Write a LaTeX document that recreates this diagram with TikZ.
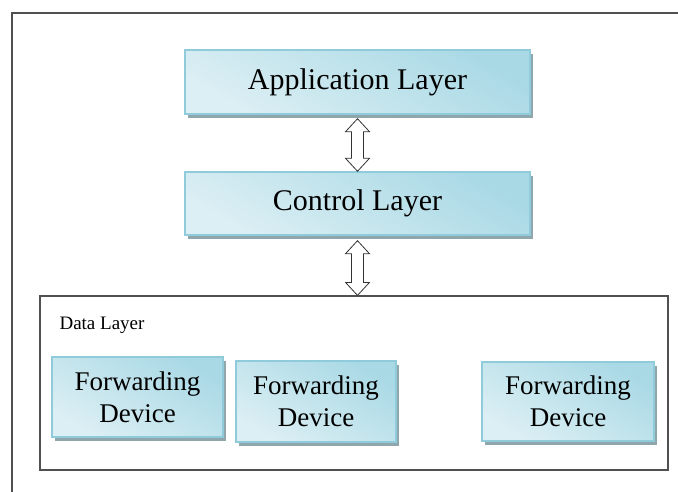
\documentclass[tikz,border=0pt]{standalone}
\usepackage{fontspec}
\setmainfont{Liberation Serif}
\usetikzlibrary{calc,shadows}

\definecolor{boxlight}{HTML}{DCEFF4}
\definecolor{boxdark}{HTML}{A9D9E5}
\definecolor{boxedge}{HTML}{8FCBDB}
\definecolor{boxshadow}{HTML}{8FA6AD}
\definecolor{framegray}{HTML}{505050}

\tikzset{
  layerbox/.style={
    draw=boxedge, line width=1.4pt,
    top color=boxlight, bottom color=boxdark, shading angle=150,
    drop shadow={shadow xshift=2.5pt, shadow yshift=-4pt, fill=boxshadow, opacity=1},
    inner sep=0pt, align=center, text=black
  },
  hollowarrow/.style={draw=black!80, line width=0.8pt, fill=white, line join=miter},
  groupbox/.style={draw=framegray, line width=1.2pt, inner sep=0pt}
}

% double-headed hollow arrow between two points (tip to tip)
\newcommand{\twowayarrow}[2]{%
  \draw[hollowarrow]
    (#1) -- ($(#1)+(-12,13)$) -- ($(#1)+(-6,13)$) -- ($(#2)+(-6,-13)$)
    -- ($(#2)+(-12,-13)$) -- (#2) -- ($(#2)+(12,-13)$) -- ($(#2)+(6,-13)$)
    -- ($(#1)+(6,13)$) -- ($(#1)+(12,13)$) -- cycle;}

\begin{document}
\begin{tikzpicture}[x=1pt,y=-1pt]
  \useasboundingbox (0,0) rectangle (678,492);

  % outer frame (top and left edges)
  \draw[framegray, line width=1.6pt] (12,492) -- (12,13) -- (678,13);

  % data layer container
  \node[groupbox, minimum width=628pt, minimum height=174pt] (data) at (354,383) {};
  \node[anchor=base west, font=\fontsize{19}{22}\selectfont] (datalbl) at (56,329) {Data Layer};

  % layers
  \node[layerbox, minimum width=345pt, minimum height=64pt,
        font=\fontsize{30}{36}\selectfont] (app) at (357.5,82) {Application Layer};
  \node[layerbox, minimum width=345pt, minimum height=63pt,
        font=\fontsize{30}{36}\selectfont] (ctl) at (357.5,203.5) {Control Layer};

  % forwarding devices
  \tikzset{fwd/.style={layerbox, font=\fontsize{27}{32}\selectfont}}
  \node[fwd, minimum width=171pt, minimum height=80pt] (fd1) at (137.5,397) {Forwarding\\Device};
  \node[fwd, minimum width=160pt, minimum height=81pt] (fd2) at (316,401.5) {Forwarding\\Device};
  \node[fwd, minimum width=172pt, minimum height=79pt] (fd3) at (568,401.5) {Forwarding\\Device};

  % connections between layers
  \coordinate (a1) at ($(app.south)+(0,4)$);
  \coordinate (a2) at (ctl.north);
  \twowayarrow{a1}{a2}
  \coordinate (b1) at ($(ctl.south)+(0,5)$);
  \coordinate (b2) at (b1 |- data.north);
  \twowayarrow{b1}{b2}
\end{tikzpicture}
\end{document}
